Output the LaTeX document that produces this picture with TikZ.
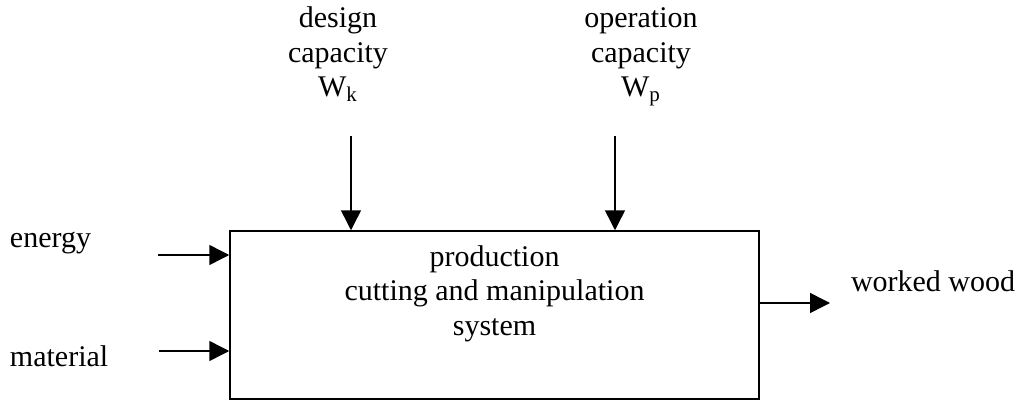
\documentclass[tikz,border=0pt]{standalone}
\usepackage{fontspec}
\setmainfont{Liberation Serif}
\usetikzlibrary{arrows.meta}
\begin{document}
\begin{tikzpicture}[x=0.5pt,y=-0.5pt, line width=0.75pt,
  lbl/.style={font=\fontsize{15}{17.25}\selectfont, inner sep=0pt, outer sep=0pt, align=center},
  box/.style={draw, line width=0.75pt, inner sep=0pt, minimum width=264.5pt, minimum height=84pt},
  arr/.style={-{Triangle[length=10pt,width=10pt]}}]
\useasboundingbox (0,0) rectangle (1018,401);
\node[box] (sys) at (494.5,315) {};
\node[lbl, anchor=base] (systxt) at (494.5,335) {production\\cutting and manipulation\\system};
\node[lbl, anchor=base] (wk) at (338,97) {design\\capacity\\W\textsubscript{k}};
\node[lbl, anchor=base] (wp) at (641,97) {operation\\capacity\\W\textsubscript{p}};
\node[lbl, anchor=base west] (en) at (10,247) {energy};
\node[lbl, anchor=base west] (ma) at (10,366) {material};
\node[lbl, anchor=base west] (wo) at (851,292) {worked wood};
\coordinate (dk) at (351,136);
\coordinate (dp) at (615,136);
\coordinate (e0) at (158,255);
\coordinate (m0) at (159,351);
\coordinate (ww) at (830,303);
\draw[arr] (dk) -- (dk |- sys.north);
\draw[arr] (dp) -- (dp |- sys.north);
\draw[arr] (e0) -- (e0 -| sys.west);
\draw[arr] (m0) -- (m0 -| sys.west);
\draw[arr] (ww -| sys.east) -- (ww);
\end{tikzpicture}
\end{document}
